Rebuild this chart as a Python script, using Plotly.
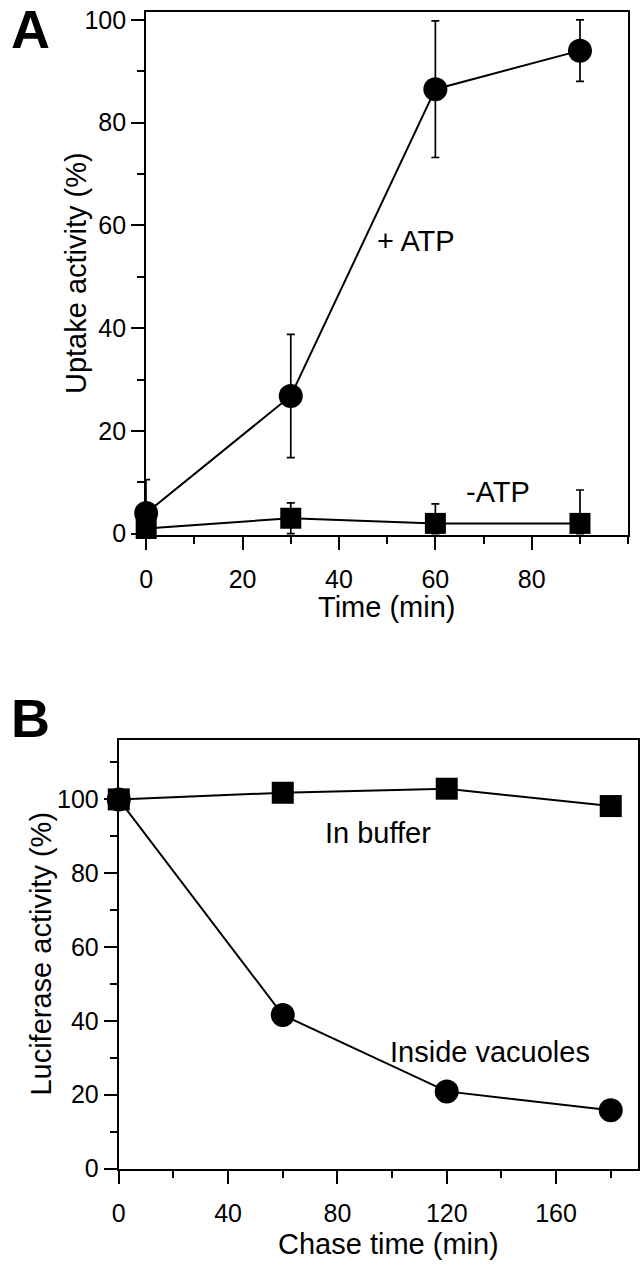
import plotly.graph_objects as go

# Panel A data
time_a = [0, 30, 60, 90]
plus_atp = [4, 26.8, 86.5, 94]
plus_atp_err = [6.5, 12, 13.3, 6]
minus_atp = [1, 3, 2, 2]
minus_atp_err_up = [1, 3, 3.8, 6.5]
minus_atp_err_down = [1, 3, 2, 2]

# Panel B data
chase_time = [0, 60, 120, 180]
in_buffer = [100, 101.8, 102.9, 98.2]
inside_vacuoles = [100, 41.6, 20.9, 15.8]

FONT = "Liberation Sans, Arial, Helvetica, sans-serif"
W, H = 644, 1280

fig = go.Figure()

line = dict(color="black", width=2)
err_style = dict(color="black", thickness=1.7, width=4)

fig.add_trace(go.Scatter(x=time_a, y=plus_atp, mode="lines+markers",
                         line=line, marker=dict(symbol="circle", size=24, color="black"),
                         error_y=dict(type="data", array=plus_atp_err, **err_style),
                         cliponaxis=False, xaxis="x", yaxis="y", showlegend=False))
fig.add_trace(go.Scatter(x=time_a, y=minus_atp, mode="lines+markers",
                         line=line, marker=dict(symbol="square", size=21, color="black"),
                         error_y=dict(type="data", symmetric=False, array=minus_atp_err_up,
                                      arrayminus=minus_atp_err_down, **err_style),
                         cliponaxis=False, xaxis="x", yaxis="y", showlegend=False))

fig.add_trace(go.Scatter(x=chase_time, y=in_buffer, mode="lines+markers",
                         line=line, marker=dict(symbol="square", size=22, color="black"),
                         cliponaxis=False, xaxis="x2", yaxis="y2", showlegend=False))
fig.add_trace(go.Scatter(x=chase_time, y=inside_vacuoles, mode="lines+markers",
                         line=line, marker=dict(symbol="circle", size=24, color="black"),
                         cliponaxis=False, xaxis="x2", yaxis="y2", showlegend=False))

axis_common = dict(showline=True, linecolor="black", linewidth=2, mirror=True,
                   ticks="outside", tickcolor="black", tickwidth=2, ticklen=13,
                   showgrid=False, zeroline=False, ticklabeloverflow="allow",
                   tickfont=dict(family=FONT, size=25, color="black"))
minor_common = dict(ticks="outside", ticklen=7, tickwidth=2, tickcolor="black", showgrid=False)

fig.update_layout(
    width=W, height=H,
    margin=dict(l=0, r=0, t=0, b=0),
    paper_bgcolor="white", plot_bgcolor="white",
    xaxis=dict(domain=[140.7 / W, 628 / W], range=[0, 100], tickvals=[0, 20, 40, 60, 80],
               minor=dict(dtick=10, tick0=0, **minor_common), ticklabelstandoff=8,
               anchor="y", **axis_common),
    yaxis=dict(domain=[1 - 537.6 / H, 1 - 6.2 / H], range=[-0.3, 101.5],
               tickvals=[0, 20, 40, 60, 80, 100],
               minor=dict(dtick=10, tick0=0, **minor_common),
               anchor="x", **axis_common),
    xaxis2=dict(domain=[113 / W, 638 / W], range=[0, 190], tickvals=[0, 40, 80, 120, 160],
                minor=dict(dtick=20, tick0=0, **minor_common), ticklabelstandoff=8,
                anchor="y2", **axis_common),
    yaxis2=dict(domain=[1 - 1181 / H, 1 - 746 / H], range=[0, 116],
                tickvals=[0, 20, 40, 60, 80, 100],
                minor=dict(dtick=10, tick0=0, **minor_common),
                anchor="x2", **axis_common),
)

def txt(x, y, s, size=29, xref="paper", yref="paper", angle=0, bold=False,
        yanchor="middle", xanchor="center"):
    fig.add_annotation(x=x, y=y, xref=xref, yref=yref, text=("<b>%s</b>" % s) if bold else s,
                       showarrow=False, textangle=angle, xanchor=xanchor, yanchor=yanchor,
                       borderpad=0, font=dict(family=FONT, size=size, color="black"))

# panel letters
txt(3 / W, 1 + 8 / H, "A", size=54, bold=True, yanchor="top", xanchor="left")
txt(3 / W, 1 - 692 / H, "B", size=54, bold=True, yanchor="top", xanchor="left")

# axis titles
txt(384 / W, 1 - 611 / H, "Time (min)")
txt(70 / W, 1 - 271 / H, "Uptake activity (%)", angle=-90)
txt(386 / W, 1 - 1258 / H, "Chase time (min)")
txt(34 / W, 1 - 963 / H, "Luciferase activity (%)", angle=-90)

# in-plot labels
txt(56, 57, "+ ATP", xref="x", yref="y")
txt(73, 8.2, "-ATP", xref="x", yref="y")
txt(95, 91, "In buffer", xref="x2", yref="y2")
txt(136, 31.5, "Inside vacuoles", xref="x2", yref="y2")

fig.write_html("out.html", config={"displayModeBar": False},
               post_script="document.body.style.margin='0';document.body.style.overflow='hidden';")
